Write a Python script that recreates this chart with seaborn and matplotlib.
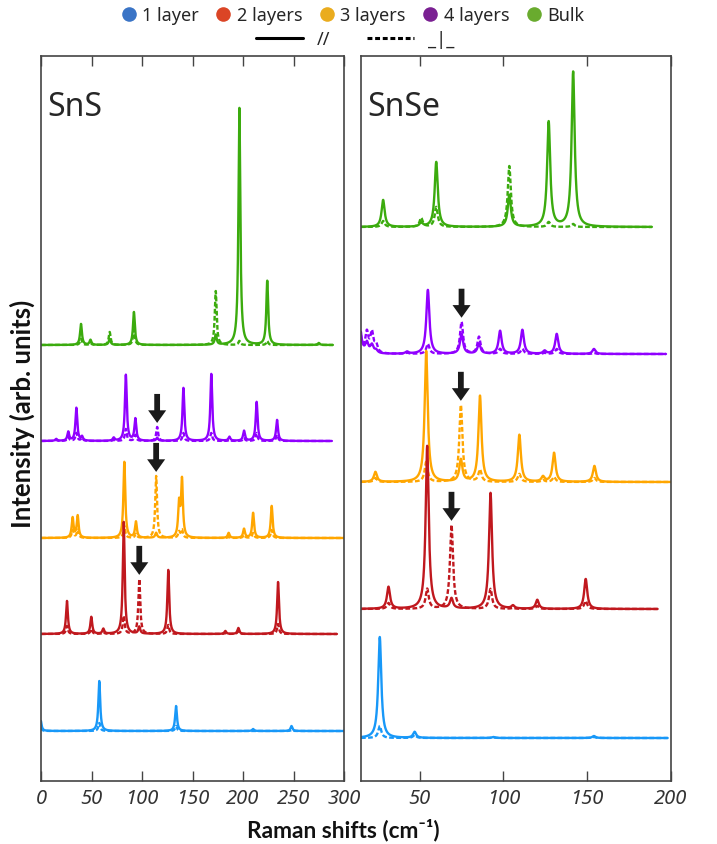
import numpy as np
import pandas as pd
import matplotlib
matplotlib.use("Agg")
import matplotlib.pyplot as plt
import seaborn as sns
from matplotlib.lines import Line2D

# ---------------- peak tables (centre in cm-1, height parallel //, height perpendicular) -------------
layers = ["1 layer", "2 layers", "3 layers", "4 layers", "Bulk"]

# SnS
sns_1L_pos = [-0.5, 57.7, 133.7, 210, 248]
sns_1L_par = [12, 50, 25, 2, 5]
sns_1L_perp = [4, 8, 5, 0, 1]

sns_2L_pos = [25.7, 49.8, 61.7, 81.9, 97.3, 126, 182.5, 195.4, 234.7]
sns_2L_par = [33, 17, 5, 112, 7, 64, 3, 6, 52]
sns_2L_perp = [8, 5, 2, 18, 55, 9, 1, 3, 10]

sns_3L_pos = [31.3, 36.3, 82.5, 94, 114, 136.7, 139.6, 185.8, 201, 210, 228.4]
sns_3L_par = [20, 22, 76, 16, 5, 33, 57, 5, 9, 25, 32]
sns_3L_perp = [8, 8, 12, 4, 62, 6, 8, 1, 3, 5, 8]

sns_4L_pos = [15, 27, 35, 40.6, 72, 84, 93.4, 115, 141, 168.6, 186.5, 201, 213.5, 233.7]
sns_4L_par = [2, 9, 33, 4, 3, 66, 22, 3, 53, 67, 4, 10, 39, 21]
sns_4L_perp = [1, 4, 8, 3, 1, 12, 6, 14, 8, 8, 1, 3, 8, 6]

sns_bulk_pos = [39.6, 49, 68, 92, 173, 196.4, 224, 275]
sns_bulk_par = [21, 5, 6, 33, 10, 237, 64, 2]
sns_bulk_perp = [6, 2, 13, 15, 54, 4, 4, 1]

# SnSe
snse_1L_pos = [26.2, 47, 94, 154]
snse_1L_par = [101, 6, 1, 2]
snse_1L_perp = [12, 3, 0.5, 1]

snse_2L_pos = [31.4, 54.5, 69, 92.3, 105.7, 120.2, 149.1]
snse_2L_par = [22, 163, 10, 116, 3, 9, 30]
snse_2L_perp = [6, 20, 84, 20, 1, 3, 8]

snse_3L_pos = [23.6, 53.9, 74.6, 86, 109.5, 123.6, 130.2, 154.3]
snse_3L_par = [10, 131, 22, 86, 47, 5, 29, 16]
snse_3L_perp = [4, 20, 77, 12, 8, 2, 5, 4]

snse_4L_pos = [14, 18.5, 21.5, 24, 42.5, 54.9, 75, 85.4, 98, 111.3, 124.6, 131.8, 154]
snse_4L_par = [38, 10, 8, 3, 2, 64, 20, 10, 23, 24, 3, 20, 5]
snse_4L_perp = [30, 20, 20, 8, 1, 10, 32, 17, 5, 5, 1, 5, 1]

snse_bulk_pos = [28.2, 50.9, 59.9, 103.5, 127, 141.6]
snse_bulk_par = [27, 4, 65, 32, 105, 155]
snse_bulk_perp = [6, 9, 20, 61, 5, 3]

# modes marked with an arrow (perpendicular-only modes)
sns_arrow_modes = {"2 layers": 97.3, "3 layers": 114, "4 layers": 115}
snse_arrow_modes = {"2 layers": 69, "3 layers": 74.6, "4 layers": 75}

# x-tick labels
sns_ticks = [0, 50, 100, 150, 200, 250, 300]
snse_ticks = [50, 100, 150, 200]

# ---------------- styling / layout ----------------
line_colors = {"1 layer": "#1898f8", "2 layers": "#c0181e", "3 layers": "#ffa600",
               "4 layers": "#9000ff", "Bulk": "#3bab0e"}
legend_colors = ["#3a74c6", "#db4526", "#eaac1e", "#7a2092", "#69ab2e"]

sns_offsets = {"1 layer": 50, "2 layers": 147, "3 layers": 243, "4 layers": 340, "Bulk": 436}
snse_offsets = {"1 layer": 43, "2 layers": 172, "3 layers": 299, "4 layers": 427, "Bulk": 554}
sns_ranges = {"1 layer": (0, 300), "2 layers": (0, 293), "3 layers": (0, 300),
              "4 layers": (0, 288), "Bulk": (0, 289)}
snse_ranges = {"1 layer": (15, 198), "2 layers": (15, 192), "3 layers": (15, 200),
               "4 layers": (15, 197), "Bulk": (15, 188.6)}


def lorentzians(x, centres, heights, gamma):
    y = np.zeros_like(x)
    for c, h in zip(centres, heights):
        y += h * gamma ** 2 / ((x - c) ** 2 + gamma ** 2)
    return y


def build_frame(tables, offsets, ranges, gamma):
    frames = []
    for layer, (pos, par, perp) in zip(layers, tables):
        lo, hi = ranges[layer]
        x = np.linspace(lo, hi, 8000)
        for pol, h in (("//", par), ("⊥", perp)):
            frames.append(pd.DataFrame({
                "shift": x,
                "intensity": offsets[layer] + lorentzians(x, pos, h, gamma),
                "layer": layer, "pol": pol}))
    return pd.concat(frames, ignore_index=True)


sns_tables = [(sns_1L_pos, sns_1L_par, sns_1L_perp), (sns_2L_pos, sns_2L_par, sns_2L_perp),
              (sns_3L_pos, sns_3L_par, sns_3L_perp), (sns_4L_pos, sns_4L_par, sns_4L_perp),
              (sns_bulk_pos, sns_bulk_par, sns_bulk_perp)]
snse_tables = [(snse_1L_pos, snse_1L_par, snse_1L_perp), (snse_2L_pos, snse_2L_par, snse_2L_perp),
               (snse_3L_pos, snse_3L_par, snse_3L_perp), (snse_4L_pos, snse_4L_par, snse_4L_perp),
               (snse_bulk_pos, snse_bulk_par, snse_bulk_perp)]

GAMMA_SNS = 1.1
GAMMA_SNSE = 1.1
df_sns = build_frame(sns_tables, sns_offsets, sns_ranges, GAMMA_SNS)
df_snse = build_frame(snse_tables, snse_offsets, snse_ranges, GAMMA_SNSE)

sns.set_style("ticks")
plt.rcParams["font.family"] = ["Noto Sans", "DejaVu Sans"]
plt.rcParams["axes.edgecolor"] = "#444444"
plt.rcParams["axes.linewidth"] = 1.2

W, H = 717, 845
fig = plt.figure(figsize=(W / 100, H / 100), dpi=100)
ax1 = fig.add_axes([41 / W, 1 - 782 / H, (344 - 41) / W, (782 - 57) / H])
ax2 = fig.add_axes([361 / W, 1 - 782 / H, (671 - 361) / W, (782 - 57) / H])


def draw_panel(ax, df, xlim, ticks, title, arrow_modes, tables, offsets, gamma):
    sns.lineplot(data=df, x="shift", y="intensity", hue="layer", style="pol",
                 hue_order=layers[::-1], style_order=["//", "⊥"],
                 palette=line_colors, dashes={"//": "", "⊥": (2, 1)},
                 estimator=None, sort=False, legend=False, lw=1.7, ax=ax)
    ax.set_xlim(*xlim)
    ax.set_ylim(0, 725)
    ax.set_yticks([])
    ax.set_xticks(ticks)
    ax.set_xticklabels([str(t) for t in ticks], fontsize=14.5, style="italic", color="#333333")
    ax.tick_params(axis="x", direction="in", length=7, width=1.0, color="#444444",
                   top=True, bottom=True, pad=5)
    ax.set_xlabel("")
    ax.set_ylabel("")
    for s in ax.spines.values():
        s.set_visible(True)
    ax.text(0.02, 0.9186, title, transform=ax.transAxes, fontsize=23, va="baseline", ha="left")
    # arrows above the perpendicular-only modes
    for layer, centre in arrow_modes.items():
        pos, par, perp = tables[layers.index(layer)]
        top = offsets[layer] + lorentzians(np.array([float(centre)]), pos, perp, gamma)[0]
        tip = top + 4
        ax.annotate("", xy=(centre, tip), xytext=(centre, tip + 29),
                    arrowprops=dict(arrowstyle="simple,head_length=0.7,head_width=1.0,tail_width=0.32",
                                    mutation_scale=13, fc="#1a1a1a", ec="none",
                                    shrinkA=0, shrinkB=0))


draw_panel(ax1, df_sns, (0, 300), sns_ticks, "SnS", sns_arrow_modes, sns_tables, sns_offsets, GAMMA_SNS)
draw_panel(ax2, df_snse, (15, 200), snse_ticks, "SnSe", snse_arrow_modes, snse_tables, snse_offsets, GAMMA_SNSE)

# axis titles
label_font = ["Lato", "DejaVu Sans"]
fig.text(22 / W, 1 - 414 / H, "Intensity (arb. units)", rotation=90, ha="center", va="center",
         fontsize=18.5, weight="bold", color="#111111", family=label_font)
fig.text(343 / W, 1 - 830 / H, "Raman shifts (cm⁻¹)", ha="center", va="center",
         fontsize=16.3, weight="bold", color="#111111", family=label_font)

# legends: layer colours, then polarisation line styles
layer_handles = [Line2D([], [], ls="none", marker="o", ms=10.5, mfc=c, mec="none") for c in legend_colors]
fig.legend(layer_handles, layers, loc="center", bbox_to_anchor=(352 / W, 1 - 16 / H), ncol=5,
           frameon=False, fontsize=13, handletextpad=0.25, columnspacing=0.85, handlelength=1.0,
           borderaxespad=0, borderpad=0)
pol_handles = [Line2D([], [], color="black", lw=2.2),
               Line2D([], [], color="black", lw=2.2, dashes=(1.6, 0.9))]
fig.legend(pol_handles, ["//", "_|_"], loc="center", bbox_to_anchor=(355 / W, 1 - 40 / H), ncol=2,
           frameon=False, fontsize=13, handletextpad=0.8, columnspacing=2.0, handlelength=2.6,
           borderaxespad=0, borderpad=0)

fig.savefig("out.png", dpi=100, facecolor="white")
